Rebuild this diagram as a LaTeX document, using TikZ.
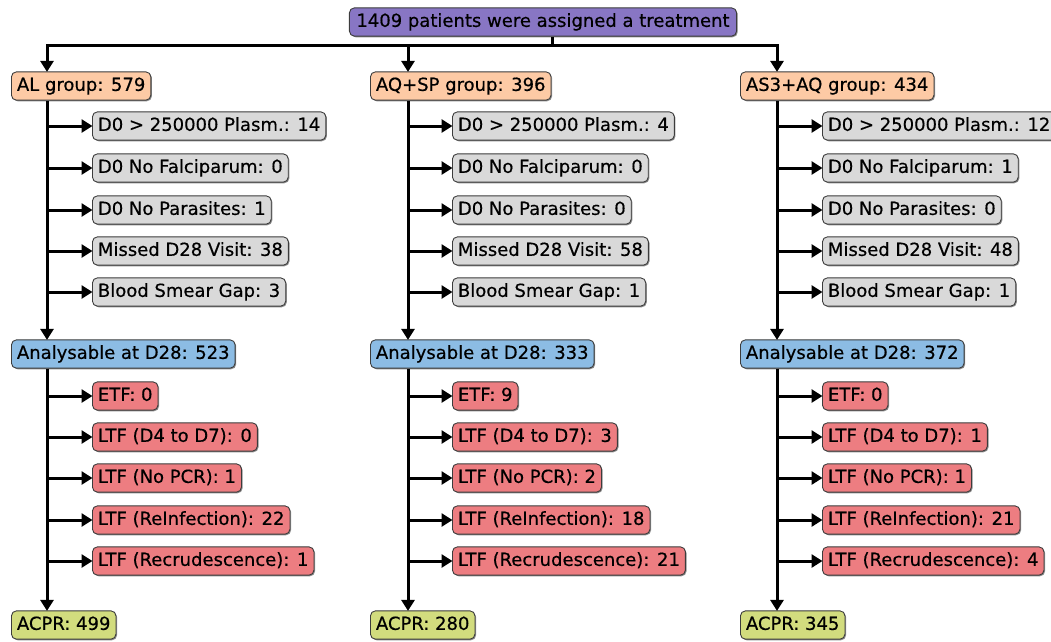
\documentclass[tikz,border=0pt]{standalone}
\usepackage{fontspec}
\setmainfont{DejaVu Sans}
\newfontfamily\nodefont[FakeBold=0.45]{DejaVu Sans}
\usetikzlibrary{arrows.meta,shadows}
\definecolor{cpurple}{RGB}{136,118,196}
\definecolor{cpeach}{RGB}{253,202,165}
\definecolor{cgray}{RGB}{217,217,217}
\definecolor{cblue}{RGB}{140,188,228}
\definecolor{cred}{RGB}{237,125,129}
\definecolor{cgreen}{RGB}{210,220,126}
\definecolor{cborder}{RGB}{60,60,60}
\tikzset{
  box/.style={draw=cborder, line width=0.9pt, rounded corners=5pt, anchor=west,
    font=\nodefont\fontsize{18}{21}\selectfont, text height=13.5pt, text depth=3.8pt,
    inner xsep=5.5pt, inner ysep=5.5pt,
    drop shadow={shadow xshift=1.1pt, shadow yshift=-1.1pt, fill=black, opacity=0.45}},
  topbox/.style={box, fill=cpurple, anchor=center, inner xsep=7pt},
  grpbox/.style={box, fill=cpeach},
  exbox/.style={box, fill=cgray},
  anbox/.style={box, fill=cblue},
  fbox/.style={box, fill=cred},
  okbox/.style={box, fill=cgreen},
  wire/.style={line width=3pt, black},
  arr/.style={wire, -{Triangle[width=13pt,length=11pt]}, shorten >=-0.5pt},
}
\begin{document}
\begin{tikzpicture}[x=1pt,y=-1pt]
\useasboundingbox (0,0) rectangle (1051,641);
\clip (0,0) rectangle (1051,641);

\node[topbox] (top) at (543,22) {1409 patients were assigned a treatment};

% groups
\node[grpbox] (g1) at (11,86) {AL group: 579};
\node[grpbox] (g2) at (370,86) {AQ+SP group: 396};
\node[grpbox] (g3) at (740,86) {AS3+AQ group: 434};

% exclusions column 1
\node[exbox] (e11) at (92,126) {D0 > 250000 Plasm.: 14};
\node[exbox] (e12) at (92,168) {D0 No Falciparum: 0};
\node[exbox] (e13) at (92,210) {D0 No Parasites: 1};
\node[exbox] (e14) at (92,251) {Missed D28 Visit: 38};
\node[exbox] (e15) at (92,292) {Blood Smear Gap: 3};
% column 2
\node[exbox] (e21) at (452,126) {D0 > 250000 Plasm.: 4};
\node[exbox] (e22) at (452,168) {D0 No Falciparum: 0};
\node[exbox] (e23) at (452,210) {D0 No Parasites: 0};
\node[exbox] (e24) at (452,251) {Missed D28 Visit: 58};
\node[exbox] (e25) at (452,292) {Blood Smear Gap: 1};
% column 3
\node[exbox] (e31) at (822,126) {D0 > 250000 Plasm.: 12};
\node[exbox] (e32) at (822,168) {D0 No Falciparum: 1};
\node[exbox] (e33) at (822,210) {D0 No Parasites: 0};
\node[exbox] (e34) at (822,251) {Missed D28 Visit: 48};
\node[exbox] (e35) at (822,292) {Blood Smear Gap: 1};

% analysable
\node[anbox] (a1) at (11,354) {Analysable at D28: 523};
\node[anbox] (a2) at (370,354) {Analysable at D28: 333};
\node[anbox] (a3) at (740,354) {Analysable at D28: 372};

% failures column 1
\node[fbox] (r11) at (92,396) {ETF: 0};
\node[fbox] (r12) at (92,437) {LTF (D4 to D7): 0};
\node[fbox] (r13) at (92,478) {LTF (No PCR): 1};
\node[fbox] (r14) at (92,520) {LTF (ReInfection): 22};
\node[fbox] (r15) at (92,561) {LTF (Recrudescence): 1};
% column 2
\node[fbox] (r21) at (452,396) {ETF: 9};
\node[fbox] (r22) at (452,437) {LTF (D4 to D7): 3};
\node[fbox] (r23) at (452,478) {LTF (No PCR): 2};
\node[fbox] (r24) at (452,520) {LTF (ReInfection): 18};
\node[fbox] (r25) at (452,561) {LTF (Recrudescence): 21};
% column 3
\node[fbox] (r31) at (822,396) {ETF: 0};
\node[fbox] (r32) at (822,437) {LTF (D4 to D7): 1};
\node[fbox] (r33) at (822,478) {LTF (No PCR): 1};
\node[fbox] (r34) at (822,520) {LTF (ReInfection): 21};
\node[fbox] (r35) at (822,561) {LTF (Recrudescence): 4};

% ACPR
\node[okbox] (c1) at (11,625) {ACPR: 499};
\node[okbox] (c2) at (370,625) {ACPR: 280};
\node[okbox] (c3) at (740,625) {ACPR: 345};

% bus
\coordinate (tick) at (552,45);
\coordinate (b1) at (47,45);
\coordinate (b2) at (408,45);
\coordinate (b3) at (777,45);
\draw[wire] (top.south -| tick) -- (tick);
\draw[wire, line cap=rect] (b1) -- (b3);
\foreach \i in {1,2,3} {
  \draw[arr] (b\i) -- (g\i.north -| b\i);
  \draw[arr] (g\i.south -| b\i) -- (a\i.north -| b\i);
  \draw[arr] (a\i.south -| b\i) -- (c\i.north -| b\i);
  \foreach \j in {1,...,5} {
    \draw[arr] (e\i\j.west -| b\i) -- (e\i\j.west);
    \draw[arr] (r\i\j.west -| b\i) -- (r\i\j.west);
  }
}
\end{tikzpicture}
\end{document}
